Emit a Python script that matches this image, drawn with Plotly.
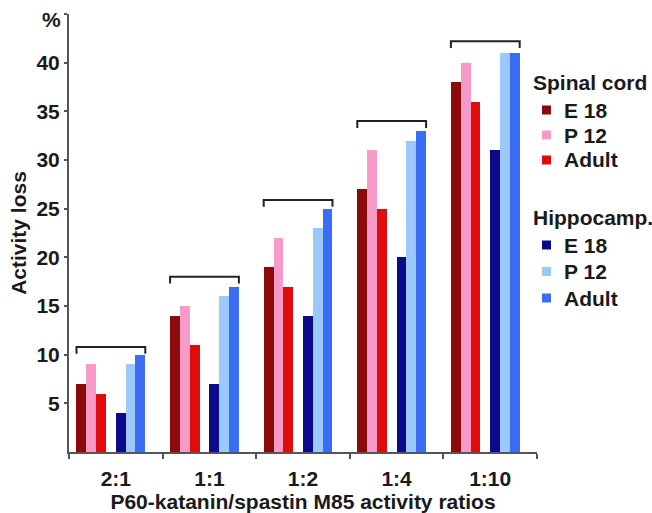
import plotly.graph_objects as go

# ---- data ----
ratios = ["2:1", "1:1", "1:2", "1:4", "1:10"]
sc_e18 = [7, 14, 19, 27, 38]
sc_p12 = [9, 15, 22, 31, 40]
sc_adult = [6, 11, 17, 25, 36]
hc_e18 = [4, 7, 14, 20, 31]
hc_p12 = [9, 16, 23, 32, 41]
hc_adult = [10, 17, 25, 33, 41]
bracket_levels = [10.8, 18, 25.9, 34, 42.2]
y_tick_vals = [5, 10, 15, 20, 25, 30, 35, 40, 45]
y_tick_text = ["5", "10", "15", "20", "25", "30", "35", "40", ""]
legend_groups = ["Spinal cord", "Hippocamp."]

FONT = "Liberation Sans, Arial, sans-serif"
TXT = "#1a1a1a"
FS = 21
AX = "#555555"

series = [
    ("E 18", sc_e18, "#8c0a0a", 0, 0),
    ("P 12", sc_p12, "#f89ac8", 1, 0),
    ("Adult", sc_adult, "#e00b0b", 2, 0),
    ("E 18", hc_e18, "#0a0a8a", 4, 1),
    ("P 12", hc_p12, "#9cc9fb", 5, 1),
    ("Adult", hc_adult, "#3a6cf4", 6, 1),
]

slot_w = 0.105
start = -0.42
xs = list(range(len(ratios)))

W, H = 652, 513
ML, MR, MT, MB = 69, 115, 14, 61
plot_h = H - MT - MB

fig = go.Figure()
for name, vals, col, slot, grp in series:
    fig.add_trace(go.Bar(
        x=xs, y=vals, width=slot_w, offset=start + slot * slot_w,
        marker=dict(color=col, line=dict(width=0)),
        showlegend=False, name=name,
    ))

# brackets
hook = 0.7
for i, h in enumerate(bracket_levels):
    x0 = i + start
    x1 = i + start + 7 * slot_w
    fig.add_trace(go.Scatter(
        x=[x0, x0, x1, x1], y=[h - hook, h, h, h - hook],
        mode="lines", line=dict(color="#222222", width=2),
        showlegend=False, hoverinfo="skip",
    ))

# manual legend (pixel offsets from the plot's top-right corner)
def py(offset_from_top):
    return 1 - offset_from_top / plot_h

title_tops = [68, 203]       # px below plot top for group titles
item_step = [25, 26.5]
annotations = []
shapes = []
for g, gname in enumerate(legend_groups):
    ty = title_tops[g]
    annotations.append(dict(
        text=gname, xref="paper", yref="paper", x=1, y=py(ty),
        xshift=-6, xanchor="left", yanchor="middle", showarrow=False,
        font=dict(size=FS, weight="bold", color=TXT),
    ))
    k = 0
    for name, vals, col, slot, grp in series:
        if grp != g:
            continue
        k += 1
        iy = py(ty + 28 + (k - 1) * item_step[g])
        annotations.append(dict(
            text=name, xref="paper", yref="paper", x=1, y=iy,
            xshift=25, xanchor="left", yanchor="middle", showarrow=False,
            font=dict(size=FS, weight="bold", color=TXT),
        ))
        shapes.append(dict(
            type="rect", xref="paper", yref="paper",
            xsizemode="pixel", ysizemode="pixel",
            xanchor=1, yanchor=iy, x0=5, x1=14, y0=-4.5, y1=4.5,
            fillcolor=col, line=dict(width=0),
        ))

# "%" unit label at top of y axis
annotations.append(dict(
    text="%", xref="paper", yref="y", x=0, y=45, xshift=-6, yshift=8,
    xanchor="right", yanchor="top", showarrow=False,
    font=dict(size=FS, weight="bold", color=TXT),
))

fig.update_layout(
    width=W, height=H,
    margin=dict(l=ML, r=MR, t=MT, b=MB, autoexpand=False),
    paper_bgcolor="white", plot_bgcolor="white",
    font=dict(family=FONT, size=FS, color=TXT, weight="bold"),
    bargap=0, showlegend=False,
    annotations=annotations, shapes=shapes,
    xaxis=dict(
        range=[-0.5, 4.5], tickvals=xs, ticktext=ratios, automargin=False,
        ticks="", showline=True, linecolor=AX, linewidth=2,
        showgrid=False, zeroline=False, ticklabelstandoff=7,
        minor=dict(tick0=0.5, dtick=1, ticks="outside", ticklen=5,
                   tickwidth=2, tickcolor=AX, showgrid=False),
        title=dict(text="P60-katanin/spastin M85 activity ratios",
                   font=dict(size=FS, weight="bold"), standoff=5),
        fixedrange=True,
    ),
    yaxis=dict(
        range=[0, 45], tickvals=y_tick_vals, ticktext=y_tick_text,
        automargin=False,
        ticks="outside", ticklen=3, tickwidth=2, tickcolor=AX,
        showline=True, linecolor=AX, linewidth=2,
        showgrid=False, zeroline=False,
        title=dict(text="Activity loss", font=dict(size=FS, weight="bold"),
                   standoff=4),
        fixedrange=True,
    ),
)

# remove the browser's default page margin so the figure fills the window
fig.write_html(
    "out.html",
    config={"displayModeBar": False},
    post_script="document.body.style.margin='0';"
                "document.documentElement.style.overflow='hidden';",
)
